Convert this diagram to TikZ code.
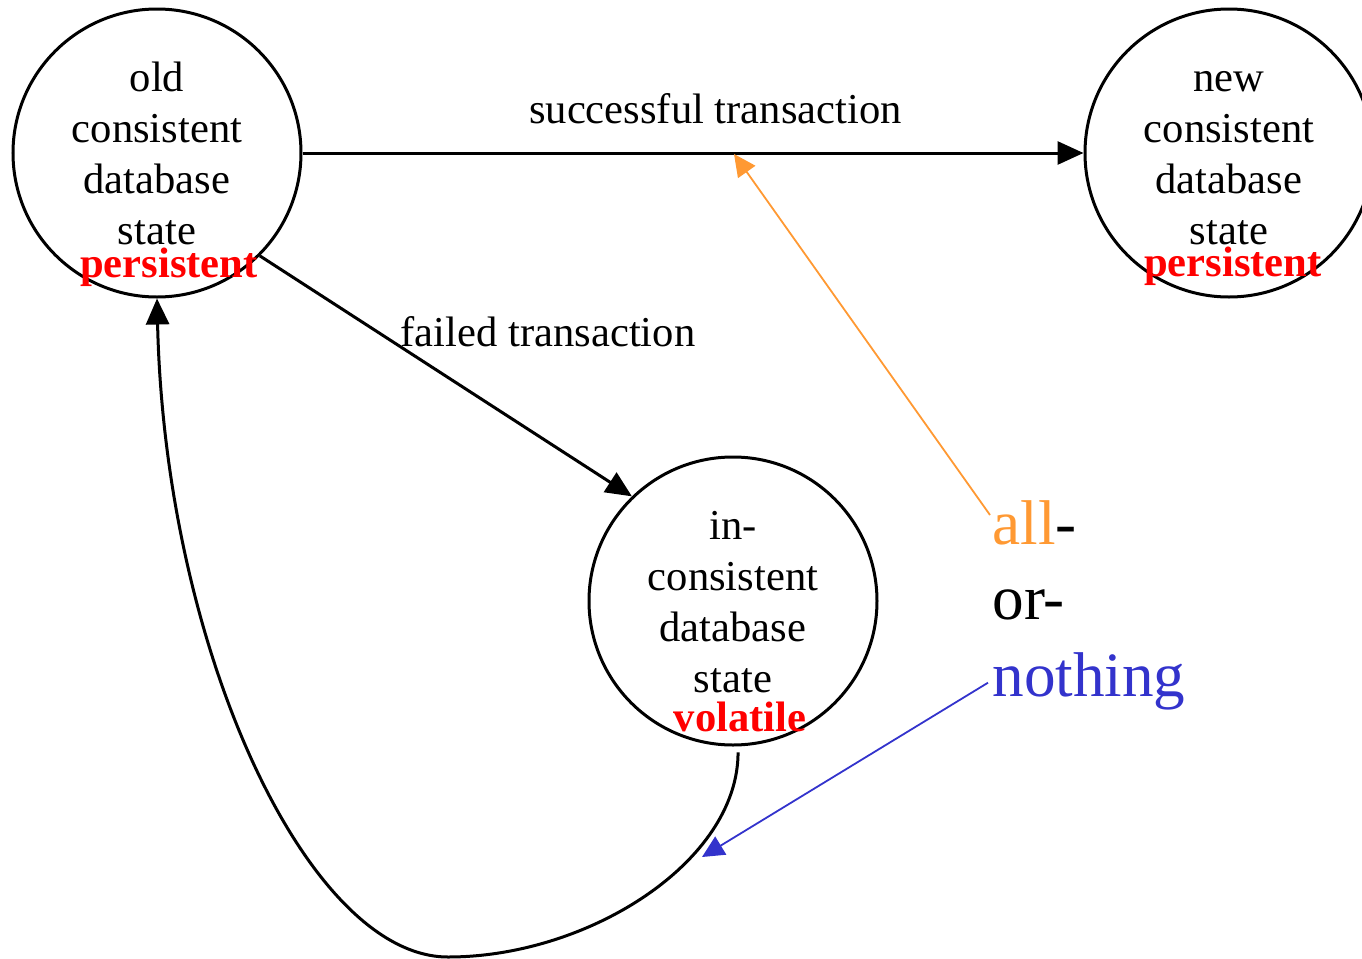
\documentclass[tikz,border=0pt]{standalone}
\usepackage{fontspec}
\setmainfont{Liberation Serif}
\usetikzlibrary{arrows.meta,calc}
\definecolor{allorange}{RGB}{255,153,51}
\definecolor{nothingblue}{RGB}{51,51,204}
\newcommand\statefont{\fontsize{21.3pt}{25.35pt}\selectfont}
\newcommand\bigfont{\fontsize{31.6pt}{38.2pt}\selectfont}

\begin{document}
\begin{tikzpicture}[x=0.5pt,y=-0.5pt,
  state/.style={circle,draw,line width=1.5pt,minimum size=144pt,inner sep=0pt,
    align=center,font=\statefont},
  tag/.style={text=red,font=\statefont\bfseries,anchor=base,inner sep=0pt},
  edgelabel/.style={font=\statefont,anchor=base,inner sep=0pt},
  flow/.style={line width=1.5pt,-{Triangle[length=13pt,width=11.5pt]}},
  pointer/.style={line width=0.9pt,-{Triangle[length=11pt,width=10.5pt]}},
  word/.style={font=\bigfont,anchor=base west,inner sep=0pt}]
\useasboundingbox (0,0) rectangle (1362,959);

% database states (rules fix the vertical placement of the four lines)
\node[state] (old) at (157,153)
  {\rule{0pt}{24pt}old\\consistent\\database\\state\rule[-9pt]{0pt}{9pt}};
\node[state] (new) at (1229,153)
  {\rule{0pt}{24pt}new\\consistent\\database\\state\rule[-9pt]{0pt}{9pt}};
\node[state] (inc) at (733,601)
  {\rule{0pt}{24pt}in-\\consistent\\database\\state\rule[-9pt]{0pt}{9pt}};

% storage tags
\node[tag] (tagold) at (169,277.3) {persistent};
\node[tag] (tagnew) at (1233,276.7) {persistent};
\node[tag] (tagvol) at (740,731.7) {volatile};

% transaction labels
\node[edgelabel] (succ) at (715.5,123.3) {successful transaction};
\node[edgelabel] (fail) at (548,346.7) {failed transaction};

% transitions
\draw[flow] (old.east) -- (new.west);
\draw[flow] (old.-45.6) -- (inc.134.7);
\draw[flow,shorten <=3pt] (inc.-88)
  .. controls (738,862) and (588,957) .. (448,957)
  .. controls (308,957) and (165,650) .. (old.south);

% all-or-nothing
\node[word] (allw) at (992,544) {\textcolor{allorange}{all}-};
\node[word] (orw) at (992,619.3) {or-};
\node[word] (nothw) at (992,696.7) {\textcolor{nothingblue}{nothing}};

\coordinate (allfoot) at ($(allw.base west)+(-2,-29)$);
\coordinate (nothfoot) at ($(nothw.base west)+(-4,-14)$);
\coordinate (hit) at (734,154);
\coordinate (loopmark) at (702,857);

\draw[pointer,allorange] (allfoot) -- (hit);
\draw[pointer,nothingblue] (nothfoot) -- (loopmark);
\end{tikzpicture}
\end{document}
